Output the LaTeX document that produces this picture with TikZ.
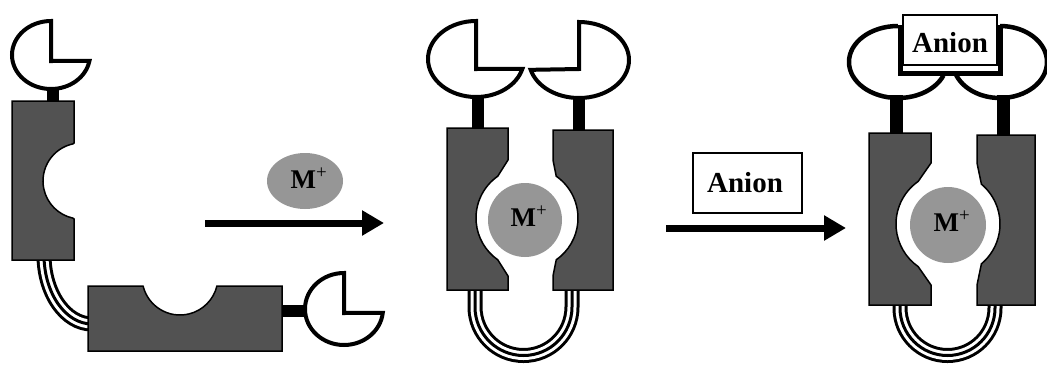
\documentclass[tikz,border=0pt]{standalone}
\usepackage{fontspec}
\setmainfont{Liberation Serif}
\usetikzlibrary{arrows.meta}
\definecolor{blockgray}{RGB}{82,82,82}
\definecolor{ballgray}{RGB}{150,150,150}
\tikzset{
  blockbox/.style={fill=blockgray, draw=black, line width=1.5pt, line join=miter},
  cupline/.style={draw=black, line width=4pt, fill=white, line join=miter},
  loopline/.style={draw=black, line width=4.5pt},
  stemfill/.style={fill=black},
  ballshape/.style={fill=ballgray, draw=none},
  mlbl/.style={font=\fontsize{27}{27}\selectfont\bfseries, inner sep=0pt, anchor=base},
  albl/.style={font=\fontsize{29}{29}\selectfont\bfseries, inner sep=0pt},
  anionbox/.style={draw=black, fill=white, line width=2pt, inner sep=0pt},
  linker/.style={draw=black, line width=15pt,
    postaction={draw=white, line width=9pt},
    postaction={draw=black, line width=3pt}},
  bigarrow/.style={line width=7pt, -{Triangle[length=22pt, width=24pt]}},
}
\begin{document}
\begin{tikzpicture}[x=1pt, y=-1pt]
\useasboundingbox (0,0) rectangle (1047,365);

% ---------------- left: free receptor ----------------
\draw[linker] (44,255) arc[start angle=180, end angle=90, x radius=48, y radius=69] -- (98,324);
\fill[stemfill] (47,86) rectangle (59,102);
\fill[stemfill] (281,305) rectangle (307,317);
\draw[blockbox] (12,101) -- (74,101) -- (74,143)
  -- ([shift={(258:38)}]81,181) arc[start angle=258, end angle=102, radius=38]
  -- (74,219) -- (74,260) -- (12,260) -- cycle;
\draw[blockbox] (88,286) -- (142,286)
  -- ([shift={(166:38)}]180,277) arc[start angle=166, end angle=14, radius=38]
  -- (282,286) -- (282,351) -- (88,351) -- cycle;
\draw[cupline] (51,61) -- (51,21) arc[start angle=270, end angle=10, x radius=39, y radius=34] -- cycle;
\draw[cupline] (344,313) -- (344,273) arc[start angle=270, end angle=6, x radius=39, y radius=36] -- cycle;

% ---------------- first arrow with M+ ----------------
\fill[ballshape] (305,181) ellipse[x radius=38, y radius=28];
\node[mlbl] (m1) at (309,188) {M\textsuperscript{\mdseries +}};
\coordinate (a1s) at (205,223);
\coordinate (a1e) at (384,223);
\draw[bigarrow] (a1s) -- (a1e);

% ---------------- middle: M+ complex ----------------
\draw[linker] (475,285) -- (475,307) arc[start angle=180, end angle=0, radius=48.5] -- (572,285);
\fill[stemfill] (472,94) rectangle (484,130);
\fill[stemfill] (573,95) rectangle (585,132);
\draw[blockbox] (447,128) -- (508,128) -- (508,160)
  -- ([shift={(235:51)}]527,218) arc[start angle=235, end angle=125, radius=51]
  -- (508,276) -- (508,290) -- (447,290) -- cycle;
\draw[blockbox] (613,130) -- (553,130) -- (553,160)
  -- ([shift={(-55:51)}]527,218) arc[start angle=-55, end angle=55, radius=51]
  -- (553,276) -- (553,290) -- (613,290) -- cycle;
\draw[cupline] (476,69) -- (476,21) arc[start angle=270, end angle=15, x radius=48, y radius=38] -- cycle;
\draw[cupline] (579,69) -- (579,22) arc[start angle=-90, end angle=165, x radius=50, y radius=38] -- cycle;
\fill[ballshape] (525,220) circle[radius=37];
\node[mlbl] (m2) at (529,226) {M\textsuperscript{\mdseries +}};

% ---------------- second arrow with Anion ----------------
\node[anionbox, minimum width=109pt, minimum height=60pt] (box1) at (747.5,183) {};
\node[albl] (anion1) at (745,183) {Anion};
\coordinate (a2s) at (666,228);
\coordinate (a2e) at (846,228);
\draw[bigarrow] (a2s) -- (a2e);

% ---------------- right: M+ and anion complex ----------------
\draw[linker] (900,298) -- (900,308) arc[start angle=180, end angle=0, radius=47.5] -- (995,298);
\fill[stemfill] (890,95) rectangle (903,135);
\fill[stemfill] (997,95) rectangle (1010,137);
\draw[blockbox] (869,133) -- (931,133) -- (931,163)
  -- ([shift={(235:52)}]948,224) arc[start angle=235, end angle=125, radius=52]
  -- (931,285) -- (931,305) -- (869,305) -- cycle;
\draw[blockbox] (1035,135) -- (977,135) -- (977,163)
  -- ([shift={(-50:52)}]948,224) arc[start angle=-50, end angle=50, radius=52]
  -- (977,285) -- (977,305) -- (1035,305) -- cycle;
\draw[loopline] (898,26) arc[start angle=270, end angle=22, x radius=49, y radius=36];
\draw[loopline] (1000,26) arc[start angle=-90, end angle=160, x radius=47, y radius=36];
\draw[line width=5pt, line join=miter] (900,25) -- (900,73) -- (1000,73) -- (1000,25);
\node[anionbox, line width=1.5pt, minimum width=94pt, minimum height=50pt] (box2) at (950,40) {};
\node[albl] (anion2) at (950,43) {Anion};
\fill[ballshape] (948,225) circle[radius=38];
\node[mlbl] (m3) at (952,231) {M\textsuperscript{\mdseries +}};
\end{tikzpicture}
\end{document}
